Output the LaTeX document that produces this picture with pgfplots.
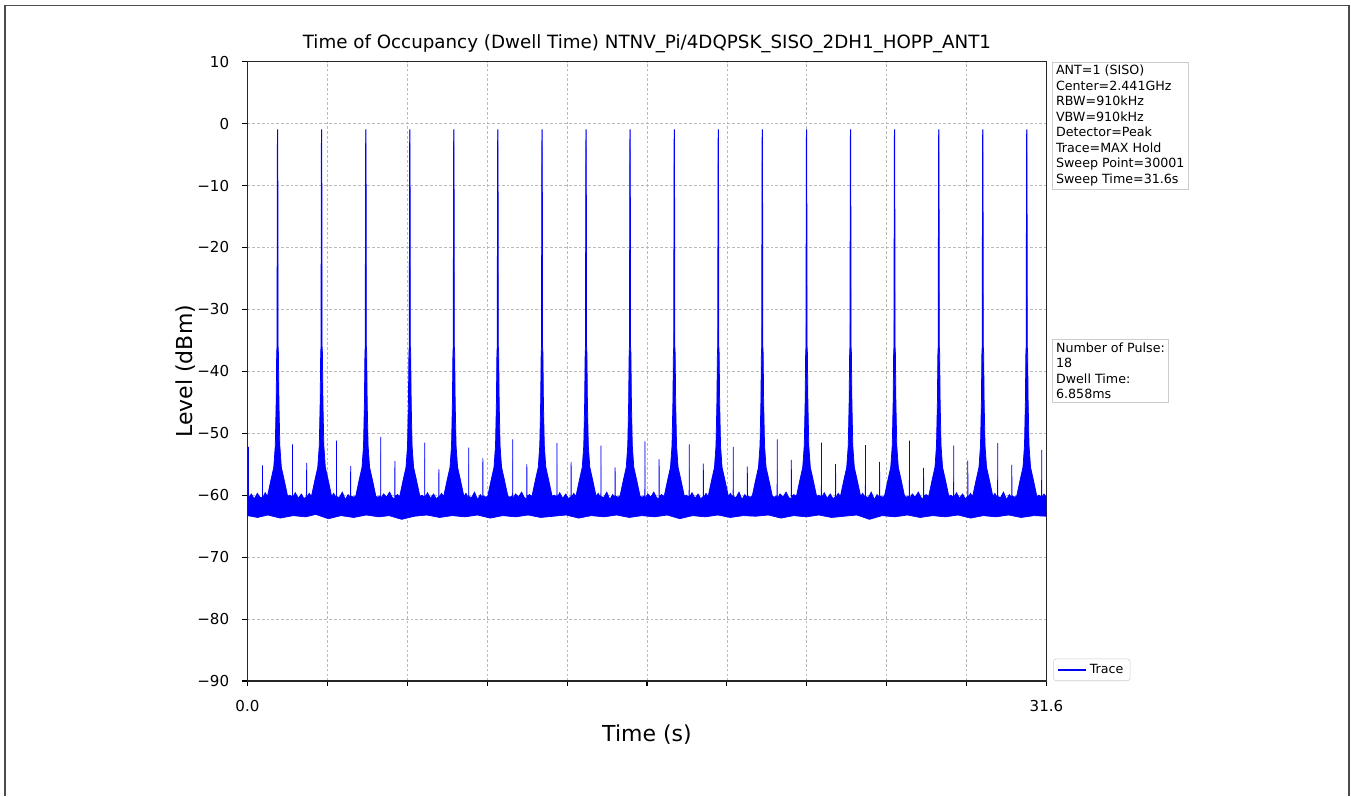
\documentclass[border=0pt]{standalone}
\usepackage{pgfplots}
\pgfplotsset{compat=1.18}
\usepackage{pgfplotstable}
\usepgfplotslibrary{fillbetween}
\usepackage{fontspec}
\setmainfont{DejaVu Sans}

\pgfplotstableread{
t y
0.000 -60.2
0.035 -60.4
0.040 -52.2
0.045 -60.5
0.15 -59.8
0.27 -60.6
0.39 -59.7
0.50 -60.4
0.590 -60.3
0.594 -55.2
0.598 -60.5
0.70 -59.6
0.79 -60.2
0.93 -57.5
1.04 -55.5
1.10 -52
1.135 -45
1.155 -37
1.168 -36
1.178 -7
1.185 -1.0
1.195 -1.0
1.202 -7
1.212 -36
1.225 -37
1.245 -45
1.28 -52
1.34 -55.5
1.45 -57.5
1.59 -60.2
1.67 -60.0
1.776 -60.3
1.780 -51.8
1.784 -60.4
1.89 -59.6
2.01 -60.5
2.13 -59.8
2.24 -60.6
2.336 -60.2
2.340 -54.8
2.344 -60.5
2.44 -59.7
2.53 -60.2
2.67 -57.5
2.78 -55.5
2.84 -52
2.875 -45
2.895 -37
2.908 -36
2.918 -7
2.925 -1.0
2.935 -1.0
2.942 -7
2.952 -36
2.965 -37
2.985 -45
3.02 -52
3.08 -55.5
3.19 -57.5
3.33 -60.2
3.41 -59.7
3.516 -60.5
3.520 -51.2
3.524 -60.2
3.63 -60.4
3.75 -59.5
3.87 -60.7
3.98 -59.9
4.076 -60.4
4.080 -55.3
4.084 -60.1
4.18 -60.3
4.28 -60.2
4.42 -57.5
4.53 -55.5
4.59 -52
4.625 -45
4.645 -37
4.658 -36
4.668 -7
4.675 -1.0
4.685 -1.0
4.692 -7
4.702 -36
4.715 -37
4.735 -45
4.77 -52
4.83 -55.5
4.94 -57.5
5.08 -60.2
5.16 -60.3
5.266 -60.1
5.270 -50.6
5.274 -60.6
5.38 -59.8
5.50 -60.3
5.62 -59.5
5.73 -60.4
5.826 -60.6
5.830 -54.5
5.834 -60.2
5.93 -59.9
6.02 -60.2
6.16 -57.5
6.27 -55.5
6.33 -52
6.365 -45
6.385 -37
6.398 -36
6.408 -7
6.415 -1.0
6.425 -1.0
6.432 -7
6.442 -36
6.455 -37
6.475 -45
6.51 -52
6.57 -55.5
6.68 -57.5
6.82 -60.2
6.90 -60.0
7.006 -60.3
7.010 -51.5
7.014 -60.4
7.12 -59.6
7.24 -60.5
7.36 -59.8
7.47 -60.6
7.566 -60.2
7.570 -55.8
7.574 -60.5
7.67 -59.7
7.76 -60.2
7.90 -57.5
8.01 -55.5
8.07 -52
8.105 -45
8.125 -37
8.138 -36
8.148 -7
8.155 -1.0
8.165 -1.0
8.172 -7
8.182 -36
8.195 -37
8.215 -45
8.25 -52
8.31 -55.5
8.42 -57.5
8.56 -60.2
8.64 -59.7
8.746 -60.5
8.750 -52.3
8.754 -60.2
8.86 -60.4
8.98 -59.5
9.10 -60.7
9.21 -59.9
9.306 -60.4
9.310 -54.0
9.314 -60.1
9.41 -60.3
9.50 -60.2
9.64 -57.5
9.75 -55.5
9.81 -52
9.845 -45
9.865 -37
9.878 -36
9.888 -7
9.895 -1.0
9.905 -1.0
9.912 -7
9.922 -36
9.935 -37
9.955 -45
9.99 -52
10.05 -55.5
10.16 -57.5
10.30 -60.2
10.38 -60.3
10.486 -60.1
10.490 -51.0
10.494 -60.6
10.60 -59.8
10.72 -60.3
10.84 -59.5
10.95 -60.4
11.046 -60.6
11.050 -55.0
11.054 -60.2
11.15 -59.9
11.25 -60.2
11.39 -57.5
11.50 -55.5
11.56 -52
11.595 -45
11.615 -37
11.628 -36
11.638 -7
11.645 -1.0
11.655 -1.0
11.662 -7
11.672 -36
11.685 -37
11.705 -45
11.74 -52
11.80 -55.5
11.91 -57.5
12.05 -60.2
12.13 -60.0
12.236 -60.3
12.240 -51.6
12.244 -60.4
12.35 -59.6
12.47 -60.5
12.59 -59.8
12.70 -60.6
12.796 -60.2
12.800 -54.6
12.804 -60.5
12.90 -59.7
12.99 -60.2
13.13 -57.5
13.24 -55.5
13.30 -52
13.335 -45
13.355 -37
13.368 -36
13.378 -7
13.385 -1.0
13.395 -1.0
13.402 -7
13.412 -36
13.425 -37
13.445 -45
13.48 -52
13.54 -55.5
13.65 -57.5
13.79 -60.2
13.87 -59.7
13.976 -60.5
13.980 -52.0
13.984 -60.2
14.09 -60.4
14.21 -59.5
14.33 -60.7
14.44 -59.9
14.536 -60.4
14.540 -55.5
14.544 -60.1
14.64 -60.3
14.73 -60.2
14.87 -57.5
14.98 -55.5
15.04 -52
15.075 -45
15.095 -37
15.108 -36
15.118 -7
15.125 -1.0
15.135 -1.0
15.142 -7
15.152 -36
15.165 -37
15.185 -45
15.22 -52
15.28 -55.5
15.39 -57.5
15.53 -60.2
15.61 -60.3
15.716 -60.1
15.720 -51.3
15.724 -60.6
15.83 -59.8
15.95 -60.3
16.07 -59.5
16.18 -60.4
16.276 -60.6
16.280 -54.2
16.284 -60.2
16.38 -59.9
16.48 -60.2
16.62 -57.5
16.73 -55.5
16.79 -52
16.825 -45
16.845 -37
16.858 -36
16.868 -7
16.875 -1.0
16.885 -1.0
16.892 -7
16.902 -36
16.915 -37
16.935 -45
16.97 -52
17.03 -55.5
17.14 -57.5
17.28 -60.2
17.36 -60.0
17.466 -60.3
17.470 -51.8
17.474 -60.4
17.58 -59.6
17.70 -60.5
17.82 -59.8
17.93 -60.6
18.026 -60.2
18.030 -54.9
18.034 -60.5
18.13 -59.7
18.22 -60.2
18.36 -57.5
18.47 -55.5
18.53 -52
18.565 -45
18.585 -37
18.598 -36
18.608 -7
18.615 -1.0
18.625 -1.0
18.632 -7
18.642 -36
18.655 -37
18.675 -45
18.71 -52
18.77 -55.5
18.88 -57.5
19.02 -60.2
19.10 -59.7
19.206 -60.5
19.210 -52.2
19.214 -60.2
19.32 -60.4
19.44 -59.5
19.56 -60.7
19.67 -59.9
19.766 -60.4
19.770 -55.4
19.774 -60.1
19.87 -60.3
19.96 -60.2
20.10 -57.5
20.21 -55.5
20.27 -52
20.305 -45
20.325 -37
20.338 -36
20.348 -7
20.355 -1.0
20.365 -1.0
20.372 -7
20.382 -36
20.395 -37
20.415 -45
20.45 -52
20.51 -55.5
20.62 -57.5
20.76 -60.2
20.84 -60.3
20.946 -60.1
20.950 -51.0
20.954 -60.6
21.06 -59.8
21.18 -60.3
21.30 -59.5
21.41 -60.4
21.506 -60.6
21.510 -54.3
21.514 -60.2
21.61 -59.9
21.71 -60.2
21.85 -57.5
21.96 -55.5
22.02 -52
22.055 -45
22.075 -37
22.088 -36
22.098 -7
22.105 -1.0
22.115 -1.0
22.122 -7
22.132 -36
22.145 -37
22.165 -45
22.20 -52
22.26 -55.5
22.37 -57.5
22.51 -60.2
22.59 -60.0
22.696 -60.3
22.700 -51.5
22.704 -60.4
22.81 -59.6
22.93 -60.5
23.05 -59.8
23.16 -60.6
23.256 -60.2
23.260 -55.0
23.264 -60.5
23.36 -59.7
23.45 -60.2
23.59 -57.5
23.70 -55.5
23.76 -52
23.795 -45
23.815 -37
23.828 -36
23.838 -7
23.845 -1.0
23.855 -1.0
23.862 -7
23.872 -36
23.885 -37
23.905 -45
23.94 -52
24.00 -55.5
24.11 -57.5
24.25 -60.2
24.33 -59.7
24.436 -60.5
24.440 -51.9
24.444 -60.2
24.55 -60.4
24.67 -59.5
24.79 -60.7
24.90 -59.9
24.996 -60.4
25.000 -54.6
25.004 -60.1
25.10 -60.3
25.19 -60.2
25.33 -57.5
25.44 -55.5
25.50 -52
25.535 -45
25.555 -37
25.568 -36
25.578 -7
25.585 -1.0
25.595 -1.0
25.602 -7
25.612 -36
25.625 -37
25.645 -45
25.68 -52
25.74 -55.5
25.85 -57.5
25.99 -60.2
26.07 -60.3
26.176 -60.1
26.180 -51.2
26.184 -60.6
26.29 -59.8
26.41 -60.3
26.53 -59.5
26.64 -60.4
26.736 -60.6
26.740 -55.6
26.744 -60.2
26.84 -59.9
26.94 -60.2
27.08 -57.5
27.19 -55.5
27.25 -52
27.285 -45
27.305 -37
27.318 -36
27.328 -7
27.335 -1.0
27.345 -1.0
27.352 -7
27.362 -36
27.375 -37
27.395 -45
27.43 -52
27.49 -55.5
27.60 -57.5
27.74 -60.2
27.82 -60.0
27.926 -60.3
27.930 -52.0
27.934 -60.4
28.04 -59.6
28.16 -60.5
28.28 -59.8
28.39 -60.6
28.486 -60.2
28.490 -54.4
28.494 -60.5
28.59 -59.7
28.68 -60.2
28.82 -57.5
28.93 -55.5
28.99 -52
29.025 -45
29.045 -37
29.058 -36
29.068 -7
29.075 -1.0
29.085 -1.0
29.092 -7
29.102 -36
29.115 -37
29.135 -45
29.17 -52
29.23 -55.5
29.34 -57.5
29.48 -60.2
29.56 -59.7
29.666 -60.5
29.670 -51.6
29.674 -60.2
29.78 -60.4
29.90 -59.5
30.02 -60.7
30.13 -59.9
30.226 -60.4
30.230 -55.1
30.234 -60.1
30.33 -60.3
30.42 -60.2
30.56 -57.5
30.67 -55.5
30.73 -52
30.765 -45
30.785 -37
30.798 -36
30.808 -7
30.815 -1.0
30.825 -1.0
30.832 -7
30.842 -36
30.855 -37
30.875 -45
30.91 -52
30.97 -55.5
31.08 -57.5
31.22 -60.2
31.30 -60.0
31.406 -60.3
31.410 -52.7
31.414 -60.4
31.50 -59.8
31.60 -60.3
}\tracetop

\pgfplotstableread{
t y
0 -63.3
0.4 -63.6
0.8 -63.2
1.3 -63.7
1.8 -63.3
2.3 -63.5
2.7 -63.1
3.2 -63.8
3.7 -63.3
4.2 -63.6
4.7 -63.2
5.2 -63.5
5.6 -63.3
6.1 -63.9
6.6 -63.4
7.1 -63.2
7.6 -63.6
8.1 -63.3
8.6 -63.5
9.1 -63.2
9.6 -63.7
10.1 -63.3
10.6 -63.5
11.1 -63.2
11.6 -63.6
12.1 -63.4
12.6 -63.2
13.1 -63.7
13.6 -63.3
14.1 -63.5
14.6 -63.2
15.1 -63.6
15.6 -63.3
16.1 -63.5
16.6 -63.2
17.1 -63.8
17.6 -63.3
18.1 -63.5
18.6 -63.2
19.1 -63.6
19.6 -63.3
20.1 -63.4
20.6 -63.2
21.1 -63.7
21.6 -63.3
22.1 -63.5
22.6 -63.2
23.1 -63.6
23.6 -63.4
24.1 -63.2
24.6 -63.9
25.1 -63.3
25.6 -63.5
26.1 -63.2
26.6 -63.6
27.1 -63.3
27.6 -63.5
28.1 -63.2
28.6 -63.7
29.1 -63.3
29.6 -63.5
30.1 -63.2
30.6 -63.6
31.1 -63.3
31.6 -63.4
}\tracebot

\begin{document}
\begin{tikzpicture}
\begin{axis}[
  at={(185.6pt,86.25pt)}, anchor=south west,
  scale only axis, width=599.25pt, height=464.5pt,
  xmin=0, xmax=31.6, ymin=-90, ymax=10,
  clip mode=individual,
  xtick={0,3.16,6.32,9.48,12.64,15.8,18.96,22.12,25.28,28.44,31.6},
  xticklabels={0.0,{},{},{},{},{},{},{},{},{},31.6},
  ytick={-90,-80,-70,-60,-50,-40,-30,-20,-10,0,10},
  yticklabels={−90,−80,−70,−60,−50,−40,−30,−20,−10,0,10},
  xtick pos=left, ytick pos=left,
  tick align=outside, major tick length=3.75pt,
  tick style={black, line width=0.8pt},
  axis line style={black!85, line width=1pt},
  grid=major,
  major grid style={gray!55, line width=0.5pt, dash pattern=on 2pt off 1.6pt},
  tick label style={font=\fontsize{11.3}{13}\selectfont},
  xticklabel style={yshift=-7pt},
  yticklabel style={xshift=-6.5pt},
  title={Time of Occupancy (Dwell Time) NTNV\_Pi/4DQPSK\_SISO\_2DH1\_HOPP\_ANT1},
  title style={font=\fontsize{13.7}{16}\selectfont, at={(axis description cs:0.5,1)}, anchor=base, yshift=4pt},
  xlabel={Time (s)},
  xlabel style={font=\fontsize{16.5}{19}\selectfont, at={(axis description cs:0.5,-0.087)}, anchor=center},
  ylabel={Level (dBm)},
  ylabel style={font=\fontsize{16.5}{19}\selectfont, at={(axis description cs:-0.078,0.5)}, anchor=center},
  legend style={at={(1.0085,0)}, anchor=south west, draw=black!20, rounded corners=2pt,
    font=\fontsize{9.5}{11}\selectfont, inner xsep=3pt, inner ysep=2pt},
  legend image code/.code={\draw[#1] (0pt,0pt) -- (21pt,0pt);},
]
\addplot[name path=up, blue, line width=0.55pt, forget plot] table {\tracetop};
\addplot[name path=lo, blue, line width=0.5pt, forget plot] table {\tracebot};
\addplot[blue, forget plot] fill between[of=up and lo];
\addlegendimage{blue, line width=1.2pt}
\addlegendentry{Trace}
\node[anchor=north west, draw=black!20, fill=white, align=left, inner sep=2.5pt,
  font=\fontsize{9.5}{11.6}\selectfont] at (rel axis cs:1.0075,1)
  {ANT=1 (SISO)\\Center=2.441GHz\\RBW=910kHz\\VBW=910kHz\\Detector=Peak\\Trace=MAX Hold\\Sweep Point=30001\\Sweep Time=31.6s};
\node[anchor=north west, draw=black!20, fill=white, align=left, inner sep=2.5pt,
  font=\fontsize{9.5}{11.6}\selectfont] at (rel axis cs:1.0075,0.5518)
  {Number of Pulse:\\18\\Dwell Time:\\6.858ms};
\end{axis}
\pgfresetboundingbox
\useasboundingbox (0,0) rectangle (1013.25pt,597pt);
\draw[black!70, line width=1.1pt] (3.75pt,0pt) -- (3.75pt,592.9pt) -- (1011.75pt,592.9pt) -- (1011.75pt,0pt);
\end{tikzpicture}
\end{document}
